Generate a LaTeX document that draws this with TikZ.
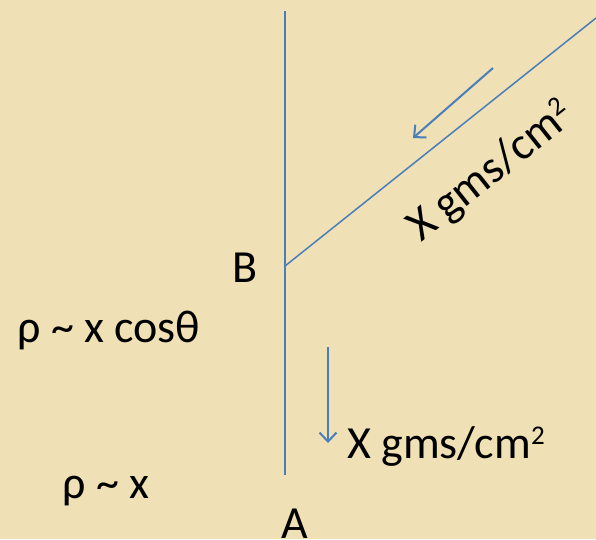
\documentclass[tikz,border=0pt]{standalone}
\usepackage{fontspec}
\setmainfont{Carlito}
\usetikzlibrary{arrows.meta}
\definecolor{parch}{RGB}{239,224,182}
\definecolor{lineblue}{RGB}{74,126,187}
\newcommand{\sqtwo}{\raisebox{14pt}{\fontsize{27}{27}\selectfont 2}}
\begin{document}
\begin{tikzpicture}[x=1pt,y=-1pt,
  lbl/.style={inner sep=0pt,font=\fontsize{46}{50}\selectfont,text=black},
  wire/.style={draw=lineblue,line width=1.5pt},
  flow/.style={draw=lineblue,line width=2pt,-{Straight Barb[length=9pt,width=17pt,line width=2pt]}}]
\fill[parch] (0,0) rectangle (596,539);
\useasboundingbox (0,0) rectangle (596,539);
\coordinate (top) at (285,11);
\coordinate (bot) at (285,475);
\coordinate (Bpt) at (285,266);
\coordinate (far) at (596,18);
\coordinate (a1s) at (493,68);
\coordinate (a1e) at (413,138);
\coordinate (a2s) at (328,347);
\coordinate (a2e) at (328,443);
\draw[wire] (top) -- (bot);
\draw[wire] (Bpt) -- (far);
\draw[flow] (a1s) -- (a1e);
\draw[flow] (a2s) -- (a2e);
\node[lbl,anchor=base west] (B) at (232,282) {B};
\node[lbl,anchor=base west] (A) at (281,538) {A};
\node[lbl,anchor=base west] (rho1) at (17,342) {ρ \char"007E{} x cosθ};
\node[lbl,anchor=base west] (rho2) at (62,498) {ρ \char"007E{} x};
\node[lbl,anchor=base west] (xg) at (347,458) {X gms/cm\sqtwo};
\node[lbl,anchor=base west,rotate=38.5] (xgd) at (421,243) {X gms/cm\sqtwo};
\end{tikzpicture}
\end{document}
